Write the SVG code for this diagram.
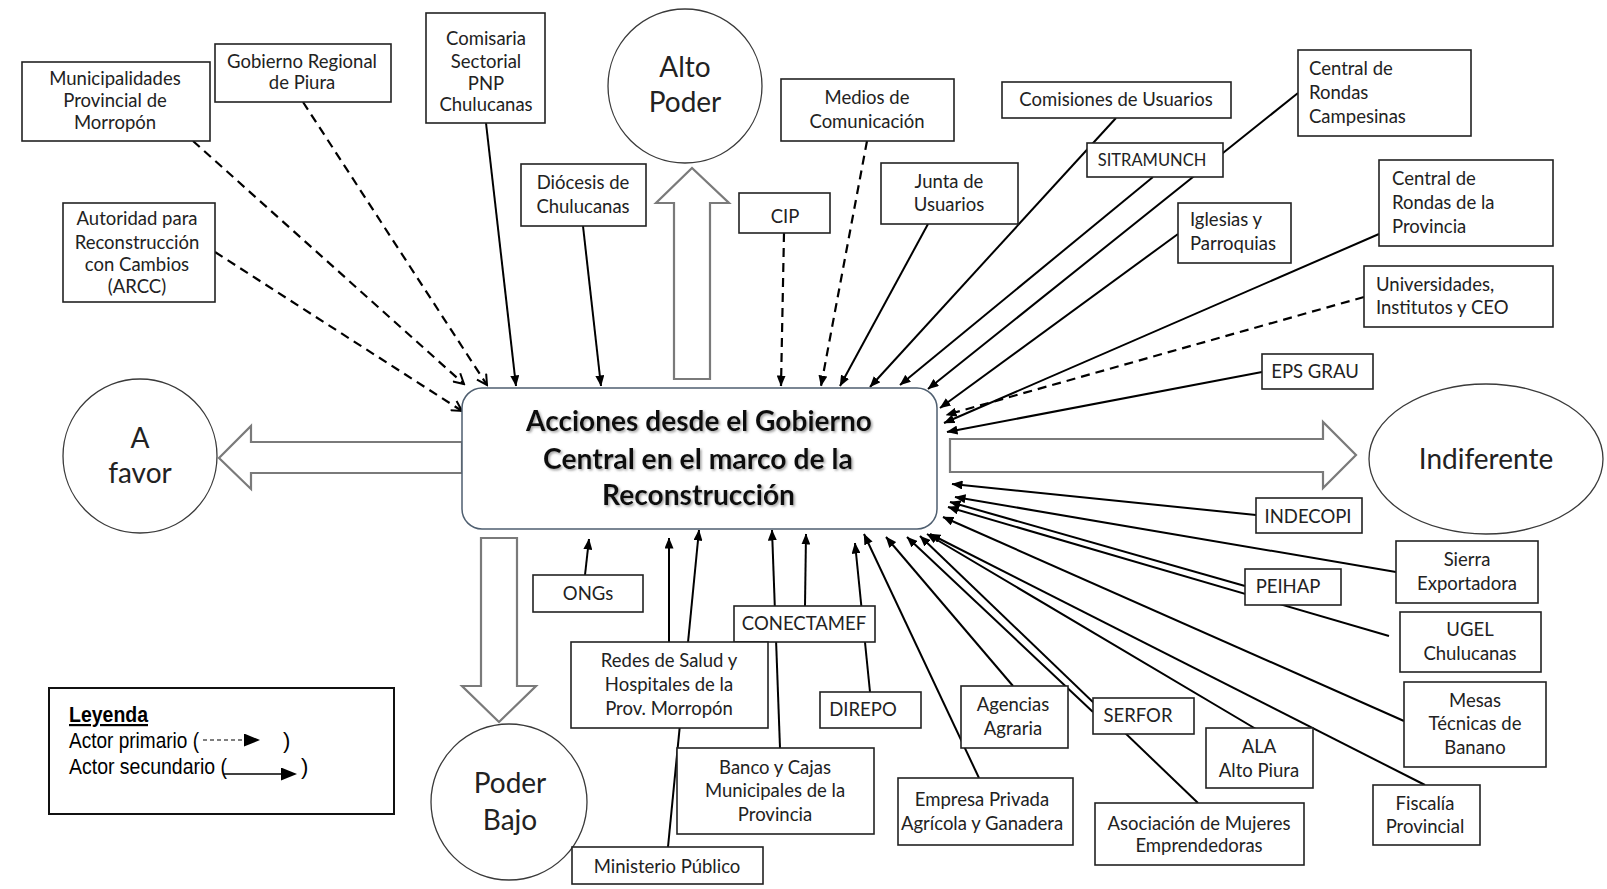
<svg xmlns="http://www.w3.org/2000/svg" width="1607" height="889" viewBox="0 0 1607 889">
<defs>
<marker id="ah" markerUnits="userSpaceOnUse" markerWidth="11" markerHeight="9" refX="10.5" refY="4.5" orient="auto"><path d="M0,0 L11,4.5 L0,9 Z" fill="#000"/></marker>
<marker id="av" markerUnits="userSpaceOnUse" markerWidth="13" markerHeight="13" refX="11" refY="6.5" orient="auto"><path d="M1,1 L11,6.5 L1,12" fill="none" stroke="#000" stroke-width="2"/></marker>
<marker id="lg" markerUnits="userSpaceOnUse" markerWidth="16" markerHeight="13" refX="1" refY="6.5" orient="auto"><path d="M0,0 L16,6.5 L0,13 Z" fill="#000"/></marker>
<filter id="sh" x="-5%" y="-20%" width="110%" height="150%"><feDropShadow dx="1.5" dy="1.5" stdDeviation="1" flood-color="#8a8a8a" flood-opacity="0.8"/></filter>
</defs>
<style>
.bx{fill:#fff;stroke:#222;stroke-width:1.6}
.ci{fill:#fff;stroke:#3a3a3a;stroke-width:1.3}
.ba{fill:#fff;stroke:#7a7a7a;stroke-width:2.2}
.t{font-family:Lato,"Open Sans","DejaVu Sans",sans-serif;font-size:18.5px;fill:#222}
.m{text-anchor:middle}
.big{font-size:28px}
.s{stroke:#000;stroke-width:2;fill:none;marker-end:url(#ah)}
.d{stroke:#000;stroke-width:2.2;fill:none;stroke-dasharray:9 6;marker-end:url(#ah)}
.dv{stroke:#000;stroke-width:2.2;fill:none;stroke-dasharray:9 6;marker-end:url(#av)}
.lt{font-family:"Liberation Sans",Arial,sans-serif;font-size:22px;fill:#000}
</style>
<rect width="1607" height="889" fill="#fff"/>

<g id="connectors">
<line class="dv" x1="193" y1="141" x2="464" y2="384"/>
<line class="dv" x1="303" y1="102" x2="487" y2="385"/>
<line class="dv" x1="215" y1="252" x2="462" y2="411"/>
<line class="d" x1="784" y1="233" x2="781" y2="386"/>
<line class="d" x1="867" y1="141" x2="821" y2="386"/>
<line class="d" x1="1364" y1="297" x2="946" y2="415"/>
<line class="s" x1="486" y1="123" x2="516" y2="386"/>
<line class="s" x1="583" y1="226" x2="601" y2="386"/>
<line class="s" x1="928" y1="224" x2="840" y2="386"/>
<line class="s" x1="1116" y1="118" x2="870" y2="387"/>
<line class="s" x1="1153" y1="177" x2="900" y2="385"/>
<line class="s" x1="1298" y1="93" x2="928" y2="389"/>
<line class="s" x1="1178" y1="234" x2="940" y2="408"/>
<line class="s" x1="1379" y1="234" x2="944" y2="423"/>
<line class="s" x1="1262" y1="372" x2="947" y2="432"/>
<line class="s" x1="1256" y1="515" x2="952" y2="484"/>
<line class="s" x1="1396" y1="572" x2="955" y2="497"/>
<line class="s" x1="1245" y1="586" x2="950" y2="502"/>
<line class="s" x1="1389" y1="636" x2="948" y2="507"/>
<line class="s" x1="1404" y1="721" x2="943" y2="517"/>
<line class="s" x1="1425" y1="785" x2="930" y2="534"/>
<line class="s" x1="1256" y1="729" x2="927" y2="534"/>
<line class="s" x1="1198" y1="803" x2="920" y2="536"/>
<line class="s" x1="1093" y1="712" x2="907" y2="537"/>
<line class="s" x1="1013" y1="686" x2="886" y2="537"/>
<line class="s" x1="979" y1="778" x2="864" y2="534"/>
<line class="s" x1="870" y1="692" x2="855" y2="543"/>
<line class="s" x1="805" y1="606" x2="806" y2="534"/>
<line class="s" x1="780" y1="748" x2="772" y2="530"/>
<line class="s" x1="669" y1="642" x2="669" y2="538"/>
<line class="s" x1="668" y1="847" x2="699" y2="530"/>
<line class="s" x1="585" y1="575" x2="589" y2="539"/>
</g>

<g id="arrow-up"><polygon class="ba" points="674,379 674,203 656,203 692,168 729,203 710,203 710,379"/></g>
<g id="arrow-left"><polygon class="ba" points="462,442 251,442 251,426 219,458 251,489 251,473 462,473"/></g>
<g id="arrow-right"><polygon class="ba" points="950,439 1323,439 1323,422 1356,455 1323,488 1323,472 950,472"/></g>
<g id="arrow-down"><polygon class="ba" points="481,538 517,538 517,686 536,686 499,722 462,686 481,686"/></g>

<g id="central">
<rect x="462" y="388" width="475" height="141" rx="20" fill="#fff" stroke="#4f5f70" stroke-width="1.5"/>
<g font-family="Lato,'Open Sans',sans-serif" font-weight="bold" font-size="28" fill="#111" filter="url(#sh)">
<text x="526" y="431" textLength="346" lengthAdjust="spacingAndGlyphs">Acciones desde el Gobierno</text>
<text x="543" y="469" textLength="310" lengthAdjust="spacingAndGlyphs">Central en el marco de la</text>
<text x="602" y="505" textLength="193" lengthAdjust="spacingAndGlyphs">Reconstrucción</text>
</g>
</g>

<g id="alto-poder"><circle class="ci" cx="685" cy="86" r="77"/><text class="t m big" x="685" y="77">Alto</text><text class="t m big" x="685" y="112">Poder</text></g>
<g id="a-favor"><circle class="ci" cx="140" cy="456" r="77"/><text class="t m big" x="140" y="448">A</text><text class="t m big" x="140" y="483">favor</text></g>
<g id="indiferente"><ellipse class="ci" cx="1486" cy="459" rx="117" ry="75"/><text class="t m big" x="1486" y="469">Indiferente</text></g>
<g id="poder-bajo"><circle class="ci" cx="509" cy="802" r="78"/><text class="t m big" x="510" y="793">Poder</text><text class="t m big" x="510" y="830">Bajo</text></g>

<g id="municipalidades"><rect class="bx" x="22" y="62" width="188" height="79"/><text class="t m" x="115" y="85">Municipalidades</text><text class="t m" x="115" y="107">Provincial de</text><text class="t m" x="115" y="129">Morropón</text></g>
<g id="gobierno-regional"><rect class="bx" x="215" y="44" width="176" height="58"/><text class="t m" x="302" y="68">Gobierno Regional</text><text class="t m" x="302" y="89">de Piura</text></g>
<g id="comisaria"><rect class="bx" x="426" y="13" width="119" height="110"/><text class="t m" x="486" y="45">Comisaria</text><text class="t m" x="486" y="68">Sectorial</text><text class="t m" x="486" y="90">PNP</text><text class="t m" x="486" y="111">Chulucanas</text></g>
<g id="arcc"><rect class="bx" x="63" y="203" width="152" height="99"/><text class="t m" x="137" y="225">Autoridad para</text><text class="t m" x="137" y="249">Reconstrucción</text><text class="t m" x="137" y="271">con Cambios</text><text class="t m" x="137" y="293">(ARCC)</text></g>
<g id="diocesis"><rect class="bx" x="521" y="164" width="125" height="62"/><text class="t m" x="583" y="189">Diócesis de</text><text class="t m" x="583" y="213">Chulucanas</text></g>
<g id="cip"><rect class="bx" x="739" y="193" width="91" height="40"/><text class="t m" x="785" y="223">CIP</text></g>
<g id="medios"><rect class="bx" x="781" y="79" width="173" height="62"/><text class="t m" x="867" y="104">Medios de</text><text class="t m" x="867" y="128">Comunicación</text></g>
<g id="junta"><rect class="bx" x="881" y="163" width="137" height="61"/><text class="t m" x="949" y="188">Junta de</text><text class="t m" x="949" y="211">Usuarios</text></g>
<g id="comisiones"><rect class="bx" x="1002" y="82" width="229" height="36"/><text class="t m" x="1116" y="106">Comisiones de Usuarios</text></g>
<g id="sitramunch"><rect class="bx" x="1087" y="143" width="136" height="34"/><text class="t m" x="1152" y="166" style="font-size:16.5px">SITRAMUNCH</text></g>
<g id="rondas-campesinas"><rect class="bx" x="1298" y="50" width="173" height="86"/><text class="t" x="1309" y="75">Central de</text><text class="t" x="1309" y="99">Rondas</text><text class="t" x="1309" y="123">Campesinas</text></g>
<g id="iglesias"><rect class="bx" x="1178" y="203" width="113" height="60"/><text class="t" x="1190" y="226">Iglesias y</text><text class="t" x="1190" y="250">Parroquias</text></g>
<g id="rondas-provincia"><rect class="bx" x="1379" y="160" width="174" height="86"/><text class="t" x="1392" y="185">Central de</text><text class="t" x="1392" y="209">Rondas de la</text><text class="t" x="1392" y="233">Provincia</text></g>
<g id="universidades"><rect class="bx" x="1364" y="266" width="189" height="61"/><text class="t" x="1376" y="291">Universidades,</text><text class="t" x="1376" y="314">Institutos y CEO</text></g>
<g id="eps-grau"><rect class="bx" x="1262" y="354" width="111" height="35"/><text class="t m" x="1315" y="378">EPS GRAU</text></g>
<g id="indecopi"><rect class="bx" x="1256" y="498" width="106" height="35"/><text class="t m" x="1308" y="523">INDECOPI</text></g>
<g id="sierra"><rect class="bx" x="1396" y="541" width="142" height="62"/><text class="t m" x="1467" y="566">Sierra</text><text class="t m" x="1467" y="590">Exportadora</text></g>
<g id="peihap"><rect class="bx" x="1245" y="569" width="96" height="36"/><text class="t m" x="1288" y="593">PEIHAP</text></g>
<g id="ugel"><rect class="bx" x="1400" y="612" width="141" height="60"/><text class="t m" x="1470" y="636">UGEL</text><text class="t m" x="1470" y="660">Chulucanas</text></g>
<g id="mesas"><rect class="bx" x="1404" y="682" width="142" height="85"/><text class="t m" x="1475" y="707">Mesas</text><text class="t m" x="1475" y="730">Técnicas de</text><text class="t m" x="1475" y="754">Banano</text></g>
<g id="fiscalia"><rect class="bx" x="1373" y="785" width="107" height="60"/><text class="t m" x="1425" y="810">Fiscalía</text><text class="t m" x="1425" y="833">Provincial</text></g>
<g id="ala"><rect class="bx" x="1206" y="728" width="107" height="60"/><text class="t m" x="1259" y="753">ALA</text><text class="t m" x="1259" y="777">Alto Piura</text></g>
<g id="asociacion"><rect class="bx" x="1095" y="803" width="209" height="62"/><text class="t m" x="1199" y="830">Asociación de Mujeres</text><text class="t m" x="1199" y="852">Emprendedoras</text></g>
<g id="serfor"><rect class="bx" x="1093" y="698" width="101" height="36"/><text class="t m" x="1138" y="722">SERFOR</text></g>
<g id="agencias"><rect class="bx" x="961" y="686" width="107" height="62"/><text class="t m" x="1013" y="711">Agencias</text><text class="t m" x="1013" y="735">Agraria</text></g>
<g id="empresa"><rect class="bx" x="898" y="778" width="175" height="67"/><text class="t m" x="982" y="806">Empresa Privada</text><text class="t m" x="982" y="830">Agrícola y Ganadera</text></g>
<g id="direpo"><rect class="bx" x="820" y="692" width="101" height="36"/><text class="t m" x="863" y="716">DIREPO</text></g>
<g id="conectamef"><rect class="bx" x="734" y="606" width="141" height="36"/><text class="t m" x="804" y="630">CONECTAMEF</text></g>
<g id="redes-salud"><rect class="bx" x="571" y="642" width="197" height="86"/><text class="t m" x="669" y="667">Redes de Salud y</text><text class="t m" x="669" y="691">Hospitales de la</text><text class="t m" x="669" y="715">Prov. Morropón</text></g>
<g id="banco"><rect class="bx" x="677" y="748" width="197" height="86"/><text class="t m" x="775" y="774">Banco y Cajas</text><text class="t m" x="775" y="797">Municipales de la</text><text class="t m" x="775" y="821">Provincia</text></g>
<g id="ministerio"><rect class="bx" x="572" y="847" width="191" height="37"/><text class="t m" x="667" y="873">Ministerio Público</text></g>
<g id="ongs"><rect class="bx" x="533" y="575" width="110" height="37"/><text class="t m" x="588" y="600">ONGs</text></g>

<g id="leyenda">
<rect x="49" y="688" width="345" height="126" fill="#fff" stroke="#111" stroke-width="2"/>
<text class="lt" x="69" y="722" font-weight="bold" text-decoration="underline" textLength="79" lengthAdjust="spacingAndGlyphs">Leyenda</text>
<text class="lt" x="69" y="748" textLength="130" lengthAdjust="spacingAndGlyphs">Actor primario (</text>
<line x1="203" y1="740" x2="245" y2="740" stroke="#000" stroke-width="1.2" stroke-dasharray="4 3" marker-end="url(#lg)"/>
<text class="lt" x="283" y="748">)</text>
<text class="lt" x="69" y="774" textLength="158" lengthAdjust="spacingAndGlyphs">Actor secundario (</text>
<line x1="224" y1="774" x2="282" y2="774" stroke="#000" stroke-width="1.3" marker-end="url(#lg)"/>
<text class="lt" x="301" y="774">)</text>
</g>
</svg>
